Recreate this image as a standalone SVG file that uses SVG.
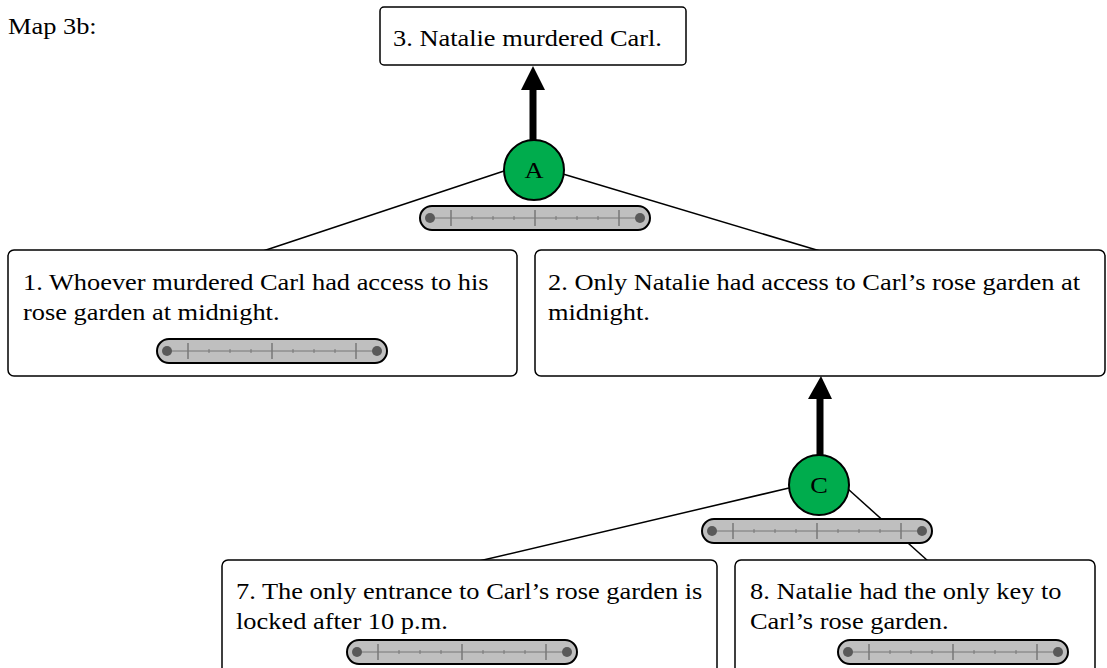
<svg xmlns="http://www.w3.org/2000/svg" xmlns:xlink="http://www.w3.org/1999/xlink" width="1107" height="668" viewBox="0 0 1107 668">
<style>
  .box { fill: #ffffff; stroke: #000000; stroke-width: 1.5; }
  .link { stroke: #000000; stroke-width: 1.5; fill: none; }
  .arrow { stroke: #000000; stroke-width: 7; fill: none; }
  .head { fill: #000000; }
  .circ { fill: #00ac4d; stroke: #000000; stroke-width: 2; }
  .gbody { fill: #bfbfbf; stroke: #000000; stroke-width: 2; }
  .gline { stroke: #777777; stroke-width: 1; }
  .gmaj { stroke: #777777; stroke-width: 1.5; }
  .gdot { fill: #595959; }
</style>
<defs>
  <g id="gauge">
    <rect class="gbody" x="0" y="0" width="230" height="24" rx="12" ry="12"/>
    <line class="gline" x1="10" y1="12" x2="220" y2="12"/>
    <line class="gmaj" x1="31" y1="4" x2="31" y2="20"/>
    <line class="gmaj" x1="115" y1="4" x2="115" y2="20"/>
    <line class="gmaj" x1="199" y1="4" x2="199" y2="20"/>
    <line class="gline" x1="52" y1="10" x2="52" y2="14"/>
    <line class="gline" x1="73" y1="10" x2="73" y2="14"/>
    <line class="gline" x1="94" y1="10" x2="94" y2="14"/>
    <line class="gline" x1="136" y1="10" x2="136" y2="14"/>
    <line class="gline" x1="157" y1="10" x2="157" y2="14"/>
    <line class="gline" x1="178" y1="10" x2="178" y2="14"/>
    <circle class="gdot" cx="10" cy="12" r="5"/>
    <circle class="gdot" cx="220" cy="12" r="5"/>
  </g>
</defs>
<rect x="0" y="0" width="1107" height="668" fill="#ffffff"/>
<text transform="translate(8,34) scale(1.1,1)" x="0" y="0" font-family="Liberation Serif, serif" font-size="24">Map 3b:</text>

<g id="connectors">
  <line class="link" x1="504" y1="171" x2="263" y2="251"/>
  <line class="link" x1="563" y1="174" x2="820" y2="251"/>
  <line class="link" x1="789" y1="488" x2="479" y2="561"/>
  <line class="link" x1="848" y1="489" x2="928" y2="561"/>
  <line class="arrow" x1="533" y1="140" x2="533" y2="88"/>
  <polygon class="head" points="521,90 545,90 533,66"/>
  <line class="arrow" x1="820" y1="455" x2="820" y2="396"/>
  <polygon class="head" points="808,399 832,399 821,376"/>
</g>

<g id="node3">
  <rect class="box" x="380" y="7" width="306" height="58" rx="4"/>
  <text transform="translate(393,46) scale(1.1,1)" x="0" y="0" font-family="Liberation Serif, serif" font-size="24">3. Natalie murdered Carl.</text>
</g>

<g id="nodeA">
  <circle class="circ" cx="534" cy="170" r="30"/>
  <text transform="translate(534,178) scale(1.1,1)" x="0" y="0" text-anchor="middle" font-family="Liberation Serif, serif" font-size="24">A</text>
  <use xlink:href="#gauge" x="420" y="206"/>
</g>

<g id="node1">
  <rect class="box" x="8" y="250" width="509" height="126" rx="6"/>
  <text transform="translate(23,290) scale(1.1,1)" x="0" y="0" font-family="Liberation Serif, serif" font-size="24">1. Whoever murdered Carl had access to his</text>
  <text transform="translate(23,320) scale(1.1,1)" x="0" y="0" font-family="Liberation Serif, serif" font-size="24">rose garden at midnight.</text>
  <use xlink:href="#gauge" x="157" y="339"/>
</g>

<g id="node2">
  <rect class="box" x="535" y="250" width="570" height="126" rx="6"/>
  <text transform="translate(548,290) scale(1.1,1)" x="0" y="0" font-family="Liberation Serif, serif" font-size="24">2. Only Natalie had access to Carl’s rose garden at</text>
  <text transform="translate(548,320) scale(1.1,1)" x="0" y="0" font-family="Liberation Serif, serif" font-size="24">midnight.</text>
</g>

<g id="nodeC">
  <circle class="circ" cx="819" cy="485" r="30"/>
  <text transform="translate(819,493) scale(1.1,1)" x="0" y="0" text-anchor="middle" font-family="Liberation Serif, serif" font-size="24">C</text>
  <use xlink:href="#gauge" x="702" y="519"/>
</g>

<g id="node7">
  <rect class="box" x="222" y="560" width="495" height="120" rx="6"/>
  <text transform="translate(236,599) scale(1.1,1)" x="0" y="0" font-family="Liberation Serif, serif" font-size="24">7. The only entrance to Carl’s rose garden is</text>
  <text transform="translate(236,629) scale(1.1,1)" x="0" y="0" font-family="Liberation Serif, serif" font-size="24">locked after 10 p.m.</text>
  <use xlink:href="#gauge" x="347" y="640"/>
</g>

<g id="node8">
  <rect class="box" x="735" y="560" width="360" height="120" rx="6"/>
  <text transform="translate(750,599) scale(1.1,1)" x="0" y="0" font-family="Liberation Serif, serif" font-size="24">8. Natalie had the only key to</text>
  <text transform="translate(750,629) scale(1.1,1)" x="0" y="0" font-family="Liberation Serif, serif" font-size="24">Carl’s rose garden.</text>
  <use xlink:href="#gauge" x="838" y="640"/>
</g>
</svg>
